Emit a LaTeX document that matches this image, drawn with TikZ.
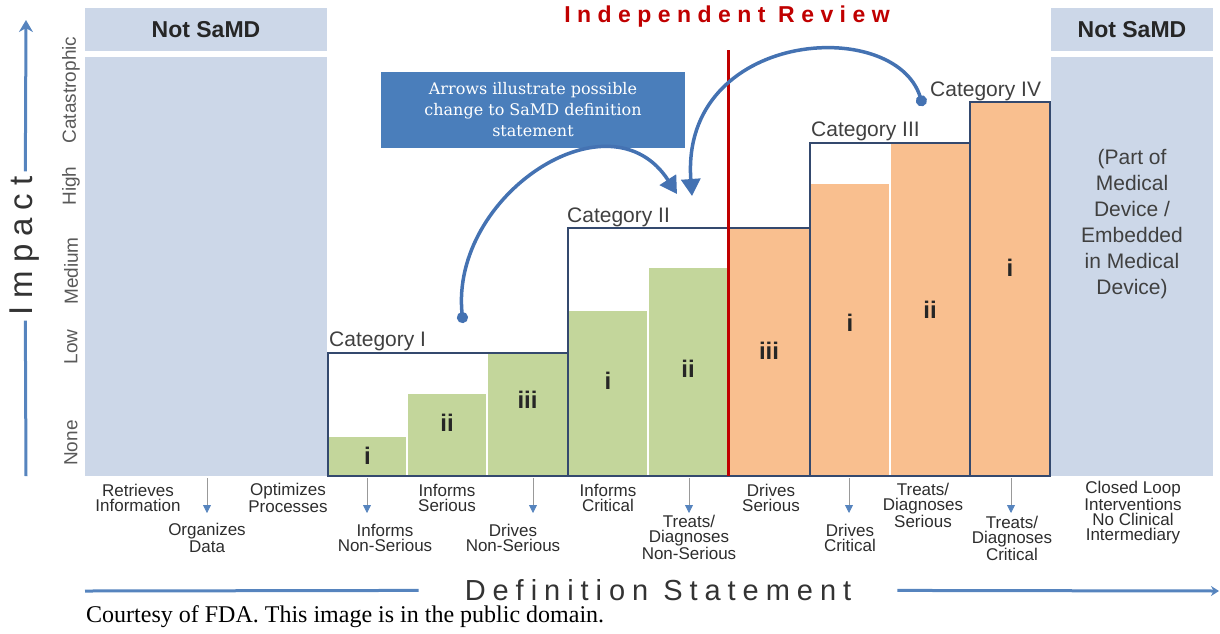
\documentclass[tikz,border=0pt]{standalone}
\usepackage{xcolor}
\usepackage{fontspec}
\setmainfont{Liberation Serif}
\setsansfont{Liberation Sans}
\newfontfamily\notefont{DejaVu Serif}
\newfontfamily\widefont[LetterSpace=24]{Liberation Sans}
\newfontfamily\reviewfont[LetterSpace=28]{Liberation Sans}
\usetikzlibrary{arrows.meta}
\usetikzlibrary{positioning}

\definecolor{samdgray}{RGB}{204,215,232}
\definecolor{catgreen}{RGB}{195,214,155}
\definecolor{catorange}{RGB}{249,191,143}
\definecolor{catline}{RGB}{52,73,110}
\definecolor{reviewred}{RGB}{192,0,0}
\definecolor{notebox}{RGB}{74,126,187}
\definecolor{arrowblue}{RGB}{68,114,178}
\definecolor{axisblue}{RGB}{86,132,190}
\definecolor{lbltext}{RGB}{45,45,45}
\definecolor{cattext}{RGB}{64,64,64}

\tikzset{
  catbox/.style = {draw = catline, line width = 2pt},
  catname/.style = {anchor = base west, inner sep = 0pt, text = cattext,
                    font = \sffamily\fontsize{21}{21}\selectfont},
  numeral/.style = {text = black!85, font = \sffamily\bfseries\fontsize{24}{24}\selectfont},
  stmt/.style = {align = center, inner sep = 0pt, text = lbltext,
                 font = \sffamily\fontsize{17}{15}\selectfont},
  level/.style = {rotate = 90, inner sep = 0pt, text = black!65,
                  font = \sffamily\fontsize{19}{19}\selectfont},
  axisline/.style = {draw = axisblue, line width = 3pt},
  tickarrow/.style = {draw = black!40, line width = 0.8pt,
                      -{Triangle[width = 8pt, length = 8pt, color = axisblue]}},
  curvearrow/.style = {draw = arrowblue, line width = 3.5pt,
                       {Circle[length = 11pt]}-{Triangle[width = 19pt, length = 17pt]}}
}

\begin{document}
\begin{tikzpicture}[x = 1pt, y = -1pt]
                      \useasboundingbox (0, 0) rectangle (1220, 633);

                      % Not SaMD columns
                      \fill[samdgray] (85, 8) rectangle (327, 51);
                      \fill[samdgray] (85, 57) rectangle (327, 476);
                      \fill[samdgray] (1051, 8) rectangle (1213, 51);
                      \fill[samdgray] (1051, 57) rectangle (1213, 476);
                      \node[text = black!85, font = \sffamily\bfseries\fontsize{23}{23}\selectfont] (nsleft) at (206, 30) {Not SaMD};
                      \node[text = black!85, font = \sffamily\bfseries\fontsize{23}{23}\selectfont] (nsright) at (1132, 30) {Not SaMD};
                      \node[align = center, text = cattext, font = \sffamily\fontsize{21}{26}\selectfont] (embedded) at (1132, 224)
                        {(Part of\\Medical\\Device /\\Embedded\\in Medical\\Device)};

                      % bars
                      \foreach \xa/\xb/\ytop/\fc/\num/\ly [count = \i] in {
                          328/407/436/catgreen/i/456, 407/487/393/catgreen/ii/423, 487/568/353/catgreen/iii/400,
                          568/648/310/catgreen/i/381, 648/728/267/catgreen/ii/369,
                          728/810/228/catorange/iii/351,
                          810/890/183/catorange/i/323, 890/970/143/catorange/ii/310,
                          970/1050/102/catorange/i/268}
                      {
                        \fill[\fc, draw = white, line width = 1.5pt] (\xa, 476) rectangle (\xb, \ytop);
                        \node[numeral] (num\i) at ({(\xa+\xb)/2}, \ly) {\num};
                      }

                      % categories
                      \draw[catbox] (328, 476) rectangle (568, 353);
                      \draw[catbox] (568, 476) rectangle (810, 228);
                      \draw[catbox] (810, 476) rectangle (970, 143);
                      \draw[catbox] (970, 476) rectangle (1050, 102);
                      \node[catname] (cat1) at (329, 346) {Category I};
                      \node[catname] (cat2) at (567, 222) {Category II};
                      \node[catname] (cat3) at (811, 136) {Category III};
                      \node[catname] (cat4) at (930, 96) {Category IV};

                      % independent review
                      \coordinate (rtop) at (728, 50);
                      \coordinate (rbot) at (728, 476);
                      \draw[reviewred, line width = 3pt] (rtop) -- (rbot);
                      \node[text = reviewred, font = \reviewfont\bfseries\fontsize{23}{23}\selectfont] (review) at (727, 17) {Independent Review};

                      % note and arrows
                      \node[fill = notebox, minimum width = 304pt, minimum height = 76pt, align = center,
                            text = white, font = \notefont\fontsize{16}{21}\selectfont] (note) at (533, 110)
                        {Arrows illustrate possible\\change to SaMD definition\\statement};
                      \coordinate (up1) at (463, 323);
                      \coordinate (dn1) at (677, 194);
                      \coordinate (up2) at (923, 106);
                      \coordinate (dn2) at (692, 196);
                      \draw[curvearrow] (up1) .. controls (450, 195) and (610, 90) .. (dn1);
                      \draw[curvearrow] (up2) .. controls (895, 15) and (680, 30) .. (dn2);

                      % impact axis
                      \node[level] (lvnone) at (71, 443) {None};
                      \node[level] (lvlow) at (71, 347) {Low};
                      \node[level] (lvmed) at (71, 271) {Medium};
                      \node[level] (lvhigh) at (71, 186) {High};
                      \node[level] (lvcat) at (71, 90) {Catastrophic};
                      \coordinate (ybot) at (26, 476);
                      \coordinate (ytop) at (26, 20);
                      \node[rotate = 90, inner xsep = 5pt, text = black!80, font = \widefont\fontsize{33}{33}\selectfont] (impact) at (25, 246) {Impact};
                      \draw[axisline] (ybot) -- (impact);
                      \draw[axisline, -{Stealth[length = 12pt, width = 14pt]}] (impact) -- (ytop);

                      % definition statements
                      \foreach \x [count = \i] in {207, 367, 533, 689, 849, 1011}
                      {
                        \coordinate (tk\i) at (\x, 478);
                        \draw[tickarrow] (tk\i) -- ++(0, 35);
                      }
                      \node[stmt] (retr) at (138, 498) {Retrieves\\Information};
                      \node[stmt] (orgd) at (207, 538) {Organizes\\Data};
                      \node[stmt] (optp) at (288, 498) {Optimizes\\Processes};
                      \node[stmt] (infns) at (385, 538) {Informs\\Non-Serious};
                      \node[stmt] (infs) at (447, 498) {Informs\\Serious};
                      \node[stmt] (drvns) at (513, 538) {Drives\\Non-Serious};
                      \node[stmt] (infc) at (608, 498) {Informs\\Critical};
                      \node[stmt] (trtns) at (689, 537) {Treats/\\Diagnoses\\Non-Serious};
                      \node[stmt] (drvs) at (771, 498) {Drives\\Serious};
                      \node[stmt] (drvc) at (850, 538) {Drives\\Critical};
                      \node[stmt] (trts) at (923, 505) {Treats/\\Diagnoses\\Serious};
                      \node[stmt] (trtc) at (1012, 538) {Treats/\\Diagnoses\\Critical};
                      \node[stmt] (closed) at (1133, 513) {Closed Loop\\Interventions\\No Clinical\\Intermediary};

                      \coordinate (xleft) at (85, 591);
                      \coordinate (xright) at (1219, 591);
                      \node[inner xsep = 46pt, text = black!80, font = \widefont\fontsize{29}{29}\selectfont] (defst) at (658, 590) {Definition Statement};
                      \draw[axisline] (xleft) -- (defst);
                      \draw[axisline, -{Stealth[length = 8pt, width = 10pt]}] (defst) -- (xright);

                      \node[anchor = west, inner sep = 0pt, font = \fontsize{24}{24}\selectfont] (credit) at (86, 617)
                        {Courtesy of FDA. This image is in the public domain.};
                    \end{tikzpicture}
\end{document}
